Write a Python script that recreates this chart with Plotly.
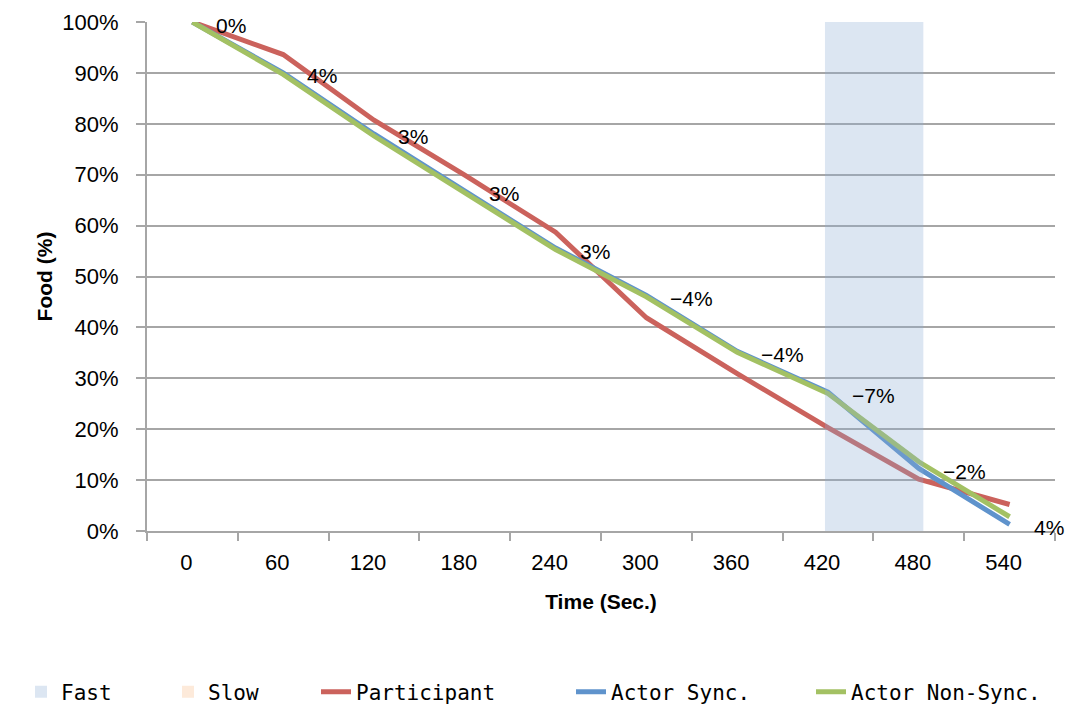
import plotly.graph_objects as go

# Elapsed time categories (seconds)
time_sec = [0, 60, 120, 180, 240, 300, 360, 420, 480, 540]

# Remaining food (%) for each series
participant = [100, 93.6, 80.7, 69.9, 58.7, 41.9, 30.9, 20.3, 10.2, 5.2]
actor_sync = [100, 90.0, 78.0, 66.8, 55.6, 46.3, 35.3, 27.3, 12.3, 1.3]
actor_non_sync = [100, 89.7, 77.6, 66.4, 55.3, 46.0, 35.1, 27.0, 13.6, 2.8]

# Speed phases (seconds): fast window shown, slow phase only in legend
fast_start, fast_end = 418, 483
food_full = 100

y_ticks = list(range(0, 101, 10))
y_tick_text = [f"{v}%" for v in y_ticks]

RED = "#CB625C"
BLUE = "#5F93CC"
GREEN = "#A3C163"
GRID = "#A6A6A6"
NUM_FONT = "Liberation Sans, Arial, sans-serif"
MONO_FONT = "DejaVu Sans Mono, Liberation Mono, monospace"
BOLD_FONT = "Liberation Sans, Arial, sans-serif"

# One legend per entry so each can sit at its own spot along the bottom
legend_left_px = [21, 168, 316, 571, 811]
legend_ids = ["legend", "legend2", "legend3", "legend4", "legend5"]

fig = go.Figure()

# Shaded phase bars on an overlay axis so they sit above the lines
fig.add_trace(go.Bar(
    x=[(fast_start + fast_end) / 2], y=[food_full], width=[fast_end - fast_start],
    name="Fast", marker=dict(color="rgba(138,172,212,0.3)", line=dict(width=0)),
    xaxis="x2", yaxis="y2", legend=legend_ids[0],
))
fig.add_trace(go.Bar(
    x=[None], y=[None], name="Slow",
    marker=dict(color="#FDEADA", line=dict(width=0)),
    xaxis="x2", yaxis="y2", legend=legend_ids[1],
))

for name, vals, color, leg in [
    ("Participant", participant, RED, legend_ids[2]),
    ("Actor Sync.", actor_sync, BLUE, legend_ids[3]),
    ("Actor Non-Sync.", actor_non_sync, GREEN, legend_ids[4]),
]:
    fig.add_trace(go.Scatter(
        x=time_sec, y=vals, mode="lines", name=name,
        line=dict(color=color, width=5, shape="linear"),
        legend=leg,
    ))

# Difference labels (participant minus synchronized actor)
for t, p, s in zip(time_sec, participant, actor_sync):
    diff = round(p - s)
    label = f"{diff}%".replace("-", "\u2212")
    fig.add_annotation(
        x=t, y=s, text=label, showarrow=False,
        xanchor="left", yanchor="middle", xshift=22, yshift=-3,
        font=dict(family=NUM_FONT, size=21, color="#000000"),
    )

legend_style = dict(
    orientation="h", xref="container", xanchor="left",
    yref="container", y=1 - 692 / 708, yanchor="middle",
    font=dict(family=MONO_FONT, size=21, color="#000000"),
    bgcolor="rgba(0,0,0,0)", borderwidth=0,
)
legend_layout = {
    lid: dict(legend_style, x=px / 1065)
    for lid, px in zip(legend_ids, legend_left_px)
}

fig.update_layout(
    width=1065, height=708,
    margin=dict(l=147, r=10, t=19, b=177),
    paper_bgcolor="white", plot_bgcolor="white",
    barmode="overlay",
    showlegend=True,
    xaxis=dict(
        range=[-30, 570], tickvals=time_sec, ticktext=[str(t) for t in time_sec],
        ticks="", showgrid=False, zeroline=False,
        showline=True, linecolor=GRID, linewidth=2,
        minor=dict(tick0=-30, dtick=60, ticks="outside", ticklen=8,
                   tickcolor=GRID, tickwidth=2, showgrid=False),
        tickfont=dict(family=NUM_FONT, size=22, color="#000000"),
        ticklabelstandoff=11, ticklabelshift=-6,
        title=dict(text="<b>Time (Sec.)</b>", standoff=20,
                   font=dict(family=BOLD_FONT, size=21, color="#000000")),
        fixedrange=True,
    ),
    yaxis=dict(
        range=[0, 100], tickmode="array", tickvals=y_ticks, ticktext=y_tick_text,
        ticks="outside", ticklen=9, tickcolor=GRID, tickwidth=2,
        showgrid=True, gridcolor=GRID, gridwidth=2,
        zeroline=False, showline=True, linecolor=GRID, linewidth=2,
        tickfont=dict(family=NUM_FONT, size=22, color="#000000"),
        ticklabelstandoff=13,
        title=dict(text="<b>Food (%)</b>", standoff=4,
                   font=dict(family=BOLD_FONT, size=21, color="#000000")),
        fixedrange=True,
    ),
    xaxis2=dict(overlaying="x", matches="x", visible=False, range=[-30, 570]),
    yaxis2=dict(overlaying="y", visible=False, range=[0, 100]),
    **legend_layout,
)

fig.write_html("out.html")
